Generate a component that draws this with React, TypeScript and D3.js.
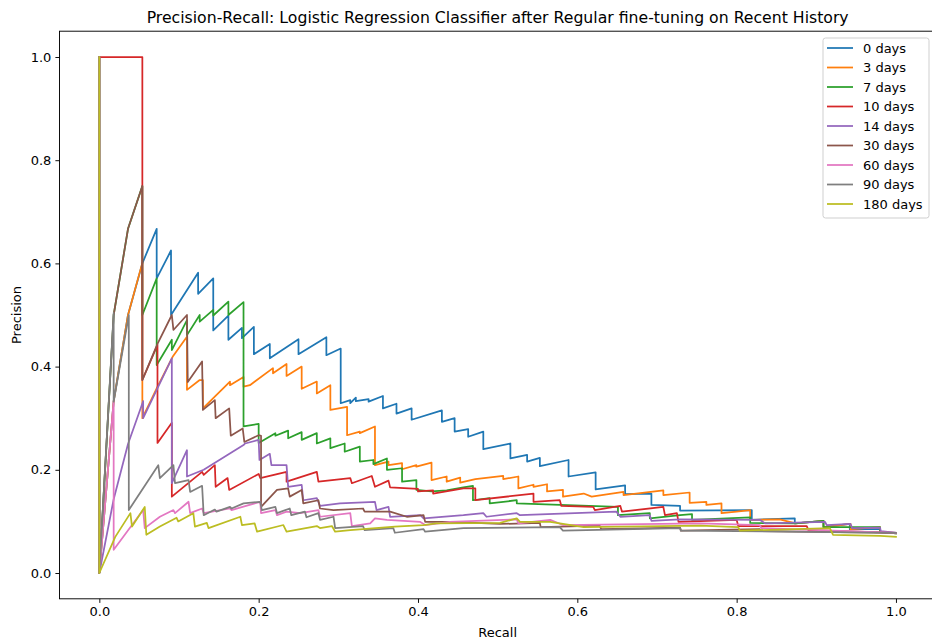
import React, { useEffect, useRef } from "react";
import * as d3 from "d3";

type Pt = [number, number];

// [recall, precision]
const days0: Pt[] = [[0,1],[0,0],[0.018,0.333],[0.036,0.5],[0.054,0.6],[0.072,0.667],[0.072,0.571],[0.09,0.625],[0.09,0.5],[0.124,0.582],[0.124,0.541],[0.143,0.571],[0.143,0.47],[0.162,0.499],[0.162,0.452],[0.179,0.475],[0.179,0.455],[0.194,0.477],[0.194,0.424],[0.214,0.444],[0.214,0.416],[0.25,0.453],[0.25,0.424],[0.285,0.457],[0.285,0.422],[0.303,0.435],[0.303,0.329],[0.315,0.335],[0.315,0.329],[0.322,0.34],[0.322,0.333],[0.338,0.337],[0.338,0.332],[0.356,0.343],[0.356,0.319],[0.373,0.328],[0.373,0.309],[0.392,0.319],[0.392,0.297],[0.43,0.315],[0.43,0.293],[0.446,0.3],[0.446,0.274],[0.463,0.279],[0.463,0.264],[0.482,0.274],[0.482,0.24],[0.516,0.251],[0.516,0.222],[0.537,0.229],[0.537,0.216],[0.553,0.223],[0.553,0.207],[0.589,0.219],[0.589,0.187],[0.623,0.195],[0.623,0.162],[0.66,0.17],[0.66,0.153],[0.693,0.154],[0.693,0.132],[0.729,0.13],[0.729,0.121],[0.819,0.122],[0.819,0.103],[0.873,0.106],[0.873,0.096],[0.909,0.101],[0.909,0.089],[0.942,0.095],[0.942,0.085],[0.98,0.085],[0.98,0.079],[1,0.077]];

const days3: Pt[] = [[0,1],[0,0],[0.018,0.333],[0.036,0.5],[0.054,0.601],[0.054,0.3],[0.072,0.358],[0.092,0.419],[0.11,0.458],[0.11,0.355],[0.126,0.374],[0.13,0.374],[0.13,0.319],[0.164,0.371],[0.164,0.364],[0.181,0.38],[0.181,0.361],[0.189,0.364],[0.218,0.397],[0.218,0.387],[0.235,0.405],[0.235,0.382],[0.254,0.4],[0.254,0.357],[0.273,0.371],[0.273,0.348],[0.29,0.364],[0.29,0.316],[0.311,0.322],[0.311,0.267],[0.327,0.274],[0.327,0.271],[0.346,0.284],[0.346,0.209],[0.363,0.216],[0.363,0.209],[0.38,0.213],[0.38,0.201],[0.398,0.209],[0.398,0.206],[0.417,0.214],[0.417,0.18],[0.436,0.187],[0.436,0.177],[0.453,0.185],[0.453,0.175],[0.472,0.182],[0.507,0.188],[0.507,0.182],[0.526,0.187],[0.526,0.164],[0.545,0.171],[0.545,0.167],[0.562,0.172],[0.562,0.158],[0.582,0.161],[0.582,0.148],[0.608,0.154],[0.618,0.148],[0.658,0.157],[0.658,0.151],[0.708,0.16],[0.708,0.151],[0.741,0.156],[0.741,0.136],[0.762,0.138],[0.762,0.132],[0.781,0.135],[0.781,0.116],[0.8,0.119],[0.817,0.122],[0.817,0.103],[0.854,0.104],[0.874,0.096],[0.909,0.101],[0.909,0.089],[0.943,0.095],[0.943,0.085],[0.98,0.089],[0.98,0.079],[1,0.077]];

const days7: Pt[] = [[0,1],[0,0],[0.018,0.5],[0.036,0.667],[0.054,0.75],[0.054,0.5],[0.072,0.571],[0.072,0.403],[0.091,0.452],[0.091,0.432],[0.11,0.49],[0.11,0.461],[0.126,0.5],[0.126,0.487],[0.143,0.51],[0.143,0.499],[0.162,0.526],[0.162,0.5],[0.181,0.525],[0.181,0.284],[0.2,0.289],[0.2,0.252],[0.221,0.271],[0.221,0.266],[0.237,0.276],[0.237,0.261],[0.254,0.273],[0.254,0.258],[0.273,0.271],[0.273,0.251],[0.29,0.261],[0.29,0.242],[0.308,0.251],[0.308,0.235],[0.327,0.245],[0.327,0.216],[0.344,0.219],[0.344,0.211],[0.361,0.222],[0.361,0.2],[0.38,0.203],[0.38,0.177],[0.398,0.18],[0.398,0.161],[0.417,0.158],[0.436,0.16],[0.457,0.166],[0.469,0.169],[0.469,0.141],[0.49,0.145],[0.49,0.135],[0.524,0.141],[0.524,0.135],[0.651,0.128],[0.651,0.112],[0.691,0.116],[0.691,0.106],[0.729,0.112],[0.744,0.114],[0.744,0.103],[0.817,0.108],[0.817,0.097],[0.874,0.096],[0.909,0.101],[0.909,0.089],[0.98,0.089],[0.98,0.079],[1,0.077]];

const days10: Pt[] = [[0,1],[0.054,1],[0.054,0.374],[0.073,0.442],[0.073,0.252],[0.091,0.291],[0.091,0.148],[0.114,0.177],[0.129,0.196],[0.131,0.19],[0.145,0.209],[0.146,0.167],[0.161,0.184],[0.163,0.161],[0.2,0.192],[0.202,0.184],[0.235,0.196],[0.235,0.177],[0.273,0.196],[0.275,0.177],[0.315,0.184],[0.317,0.174],[0.342,0.188],[0.346,0.167],[0.363,0.179],[0.365,0.166],[0.4,0.163],[0.4,0.158],[0.419,0.16],[0.419,0.154],[0.457,0.164],[0.472,0.164],[0.472,0.141],[0.545,0.154],[0.545,0.138],[0.578,0.141],[0.58,0.13],[0.62,0.128],[0.622,0.122],[0.654,0.13],[0.656,0.119],[0.708,0.128],[0.71,0.112],[0.725,0.116],[0.727,0.099],[0.8,0.103],[0.802,0.091],[0.888,0.091],[0.89,0.083],[1,0.078]];

const days14: Pt[] = [[0,1],[0,0],[0.018,0.143],[0.036,0.25],[0.055,0.333],[0.055,0.3],[0.091,0.416],[0.091,0.174],[0.11,0.238],[0.11,0.187],[0.131,0.2],[0.181,0.248],[0.183,0.251],[0.2,0.258],[0.201,0.219],[0.214,0.231],[0.216,0.209],[0.235,0.209],[0.237,0.167],[0.254,0.171],[0.256,0.141],[0.273,0.145],[0.277,0.13],[0.302,0.135],[0.346,0.138],[0.348,0.122],[0.363,0.128],[0.365,0.109],[0.403,0.112],[0.407,0.106],[0.457,0.112],[0.482,0.116],[0.486,0.109],[0.524,0.116],[0.528,0.112],[0.649,0.119],[0.654,0.109],[0.691,0.112],[0.693,0.101],[0.729,0.104],[0.829,0.103],[0.836,0.096],[0.911,0.099],[0.913,0.093],[0.943,0.095],[0.945,0.087],[0.98,0.088],[0.981,0.081],[1,0.078]];

const days30: Pt[] = [[0,1],[0,0],[0.018,0.5],[0.036,0.667],[0.054,0.75],[0.054,0.374],[0.073,0.444],[0.091,0.5],[0.093,0.471],[0.11,0.5],[0.111,0.37],[0.129,0.41],[0.13,0.316],[0.145,0.335],[0.146,0.3],[0.163,0.319],[0.165,0.266],[0.18,0.28],[0.182,0.254],[0.2,0.267],[0.203,0.266],[0.203,0.128],[0.223,0.161],[0.237,0.164],[0.239,0.148],[0.254,0.161],[0.256,0.135],[0.275,0.141],[0.277,0.125],[0.294,0.122],[0.331,0.125],[0.333,0.119],[0.365,0.119],[0.386,0.109],[0.407,0.112],[0.409,0.099],[0.44,0.099],[0.503,0.095],[0.553,0.097],[0.554,0.089],[0.628,0.092],[0.63,0.085],[0.729,0.088],[0.73,0.082],[0.829,0.085],[0.831,0.081],[1,0.078]];

const days60: Pt[] = [[0,1],[0,0],[0.018,0.333],[0.018,0.045],[0.041,0.093],[0.055,0.122],[0.057,0.087],[0.076,0.109],[0.093,0.122],[0.095,0.116],[0.112,0.138],[0.114,0.116],[0.129,0.125],[0.131,0.116],[0.164,0.125],[0.166,0.122],[0.202,0.138],[0.203,0.116],[0.221,0.122],[0.223,0.112],[0.235,0.119],[0.252,0.116],[0.275,0.122],[0.277,0.109],[0.315,0.116],[0.317,0.091],[0.34,0.096],[0.346,0.106],[0.361,0.103],[0.403,0.099],[0.409,0.093],[0.44,0.099],[0.524,0.104],[0.526,0.096],[0.566,0.103],[0.582,0.093],[0.754,0.096],[0.829,0.093],[0.831,0.087],[1,0.078]];

const days90: Pt[] = [[0,1],[0,0],[0.018,0.504],[0.018,0.332],[0.037,0.5],[0.037,0.122],[0.074,0.209],[0.076,0.184],[0.093,0.209],[0.095,0.174],[0.112,0.18],[0.114,0.157],[0.129,0.169],[0.131,0.112],[0.145,0.123],[0.147,0.119],[0.164,0.128],[0.166,0.125],[0.181,0.135],[0.202,0.138],[0.204,0.122],[0.221,0.128],[0.223,0.116],[0.239,0.125],[0.241,0.112],[0.258,0.119],[0.26,0.108],[0.275,0.116],[0.277,0.103],[0.294,0.109],[0.296,0.087],[0.331,0.091],[0.333,0.083],[0.369,0.087],[0.371,0.078],[0.407,0.085],[0.409,0.08],[0.457,0.087],[0.578,0.089],[0.582,0.082],[0.729,0.087],[0.73,0.082],[1,0.078]];

const days180: Pt[] = [[0,1],[0,0],[0.02,0.07],[0.039,0.116],[0.041,0.09],[0.057,0.128],[0.059,0.074],[0.076,0.09],[0.097,0.107],[0.099,0.1],[0.118,0.116],[0.12,0.09],[0.135,0.097],[0.137,0.087],[0.177,0.109],[0.179,0.093],[0.195,0.096],[0.198,0.08],[0.231,0.093],[0.235,0.08],[0.273,0.091],[0.277,0.087],[0.292,0.091],[0.296,0.08],[0.315,0.083],[0.371,0.09],[0.407,0.093],[0.423,0.096],[0.503,0.097],[0.524,0.106],[0.528,0.099],[0.566,0.099],[0.608,0.089],[0.754,0.092],[0.802,0.089],[0.804,0.082],[0.917,0.087],[0.921,0.074],[0.98,0.072],[1,0.07]];

const labels = ["0 days", "3 days", "7 days", "10 days", "14 days", "30 days", "60 days", "90 days", "180 days"];
const series = [days0, days3, days7, days10, days14, days30, days60, days90, days180];

const xTicks = [0, 0.2, 0.4, 0.6, 0.8, 1.0];
const yTicks = [0, 0.2, 0.4, 0.6, 0.8, 1.0];

const palette = ["#1f77b4", "#ff7f0e", "#2ca02c", "#d62728", "#9467bd", "#8c564b", "#e377c2", "#7f7f7f", "#bcbd22"];

const FONT = "DejaVu Sans, sans-serif";
const FS = "13px";

export default function App() {
  const ref = useRef<SVGSVGElement>(null);

  useEffect(() => {
    const svg = d3.select(ref.current);
    svg.selectAll("*").remove();

    const left = 59.5, right = 935.8, top = 31.2, bottom = 598.8;
    const x = d3.scaleLinear().domain([-0.05, 1.05]).range([left, right]);
    const y = d3.scaleLinear().domain([-0.05, 1.05]).range([bottom, top]);

    svg.append("rect").attr("width", 932).attr("height", 640).attr("fill", "white");

    const line = d3.line<Pt>().x(d => x(d[0])).y(d => y(d[1]));

    const g = svg.append("g");
    series.forEach((s, i) => {
      g.append("path")
        .datum(s)
        .attr("d", line)
        .attr("fill", "none")
        .attr("stroke", palette[i])
        .attr("stroke-width", 1.75)
        .attr("stroke-linejoin", "round")
        .attr("stroke-linecap", "square");
    });

    // frame
    svg.append("rect")
      .attr("x", left).attr("y", top)
      .attr("width", right - left).attr("height", bottom - top)
      .attr("fill", "none").attr("stroke", "black").attr("stroke-width", 0.94);

    const fmt = d3.format(".1f");
    const xAxis = svg.append("g")
      .attr("transform", `translate(0,${bottom})`)
      .call(d3.axisBottom(x).tickValues(xTicks).tickFormat(d => fmt(d as number)).tickSize(4.1).tickPadding(4));
    const yAxis = svg.append("g")
      .attr("transform", `translate(${left},0)`)
      .call(d3.axisLeft(y).tickValues(yTicks).tickFormat(d => fmt(d as number)).tickSize(4.1).tickPadding(4));
    [xAxis, yAxis].forEach(a => {
      a.select(".domain").remove();
      a.selectAll("line").attr("stroke", "black").attr("stroke-width", 0.94);
      a.selectAll("text").attr("fill", "black").style("font-family", FONT).style("font-size", FS);
    });

    svg.append("text")
      .attr("x", (left + right) / 2).attr("y", 23)
      .attr("text-anchor", "middle")
      .style("font-family", FONT).style("font-size", "15.7px")
      .text("Precision-Recall: Logistic Regression Classifier after Regular fine-tuning on Recent History");

    svg.append("text")
      .attr("x", (left + right) / 2).attr("y", 637)
      .attr("text-anchor", "middle")
      .style("font-family", FONT).style("font-size", FS)
      .text("Recall");

    svg.append("text")
      .attr("transform", `translate(21,${(top + bottom) / 2}) rotate(-90)`)
      .attr("text-anchor", "middle")
      .style("font-family", FONT).style("font-size", FS)
      .text("Precision");

    // legend
    const lg = svg.append("g");
    lg.append("rect")
      .attr("x", 823).attr("y", 38).attr("width", 106).attr("height", 180)
      .attr("rx", 2.5)
      .attr("fill", "white").attr("fill-opacity", 0.8)
      .attr("stroke", "#cccccc").attr("stroke-width", 0.94);
    labels.forEach((lab, i) => {
      const cy = 48 + i * 19.5;
      lg.append("line")
        .attr("x1", 827).attr("x2", 853).attr("y1", cy).attr("y2", cy)
        .attr("stroke", palette[i]).attr("stroke-width", 1.75);
      lg.append("text")
        .attr("x", 863).attr("y", cy).attr("dy", "0.36em")
        .style("font-family", FONT).style("font-size", FS)
        .text(lab);
    });
  }, []);

  return (
    <svg ref={ref} width={932} height={640} style={{ position: "absolute", left: 0, top: 0 }} />
  );
}
